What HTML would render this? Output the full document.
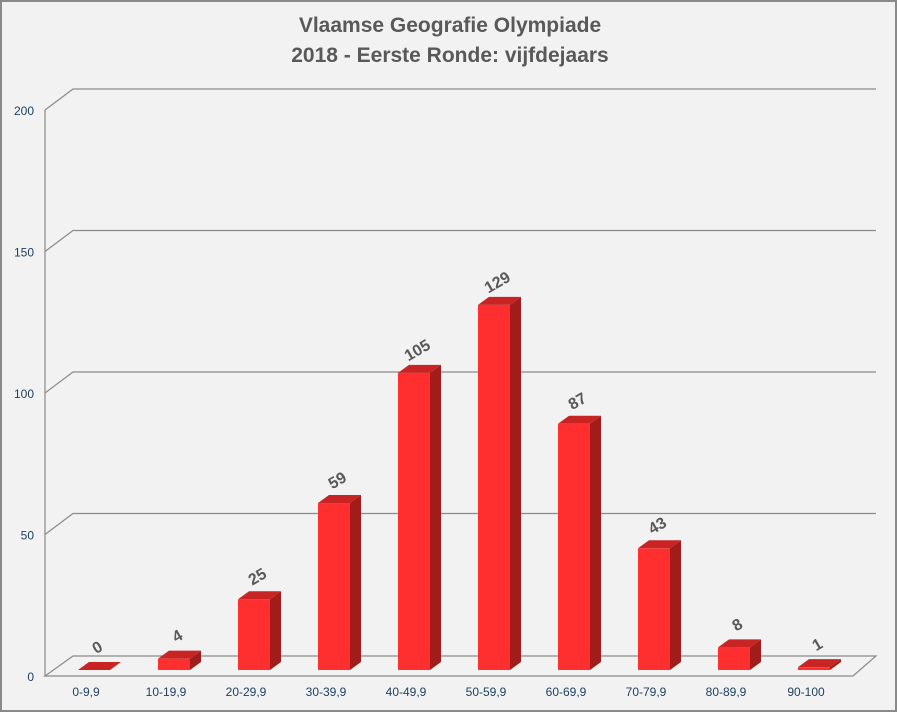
<!DOCTYPE html>
<html><head><meta charset="utf-8"><style>
body{margin:0;background:#fff}
svg{display:block;font-family:"Liberation Sans",sans-serif}
</style></head><body>
<svg id="c" width="897" height="712" viewBox="0 0 897 712">
<rect x="1" y="1" width="895" height="710" fill="#f2f2f2" stroke="#8a8a8a" stroke-width="2"/>
<text x="450" y="32" text-anchor="middle" font-size="21" font-weight="bold" fill="#595959">Vlaamse Geografie Olympiade</text>
<text x="450" y="62" text-anchor="middle" font-size="21" font-weight="bold" fill="#595959">2018 - Eerste Ronde: vijfdejaars</text>
<g id="grid"></g><g id="bars"></g><g id="labels"></g>
</svg>
<script>
const categories=["0-9,9","10-19,9","20-29,9","30-39,9","40-49,9","50-59,9","60-69,9","70-79,9","80-89,9","90-100"];
const values=[0,4,25,59,105,129,87,43,8,1];
const ticks=[0,50,100,150,200];
const NS="http://www.w3.org/2000/svg";
const svg=document.getElementById('c');
const grid=document.getElementById('grid'),bars=document.getElementById('bars'),labels=document.getElementById('labels');
const yF=v=>676-v*2.83;
const xC=i=>94+i*80;
function mk(tag,attrs,parent){const e=document.createElementNS(NS,tag);for(const k in attrs)e.setAttribute(k,attrs[k]);parent.appendChild(e);return e;}
let fl=mk('polygon',{points:"45,676 853,676 876,656 73,656",fill:"none",stroke:"#8a8a8a","stroke-width":1.2},grid);


let ax=mk('line',{x1:45,y1:yF(200),x2:45,y2:676,stroke:"#8a8a8a","stroke-width":1.2},grid);


ticks.forEach(t=>{
  const y=yF(t);
  if(t>0){
    const g=mk('polyline',{points:`45,${y} 73,${y-21} 876,${y-21}`,fill:"none",stroke:"#8a8a8a","stroke-width":1.2},grid);
    
    
  }
  const tx=mk('text',{x:34,y:y+5,"text-anchor":"end","font-size":12,fill:"#1f4060"},grid);
  tx.textContent=t;
  
  
});
categories.forEach((c,i)=>{
  const v=values[i],cx=xC(i),x0=cx-16,x1=cx+16,yb=670,yt=yb-v*2.83,dx=11,dy=8;
  const g=mk('g',{},bars);
  
  
  mk('polygon',{points:`${x1},${yb} ${x1+dx},${yb-dy} ${x1+dx},${yt-dy} ${x1},${yt}`,fill:"#a31c1c"},g);
  mk('rect',{x:x0,y:yt,width:32,height:yb-yt,fill:"#ff2f2f"},g);
  mk('polygon',{points:`${x0},${yt} ${x0+dx},${yt-dy} ${x1+dx},${yt-dy} ${x1},${yt}`,fill:"#c82424"},g);
  const lx=cx+6,ly=yt-18;
  const t=mk('text',{x:lx,y:ly,"text-anchor":"middle","font-size":16,"font-weight":"bold",fill:"#595959",transform:`rotate(-30 ${lx} ${ly})`},labels);
  t.textContent=v;
  
  
  const xl=mk('text',{x:cx-8,y:696,"text-anchor":"middle","font-size":12,fill:"#1f4060"},labels);
  xl.textContent=c;
  
  
});
</script>
</body></html>
